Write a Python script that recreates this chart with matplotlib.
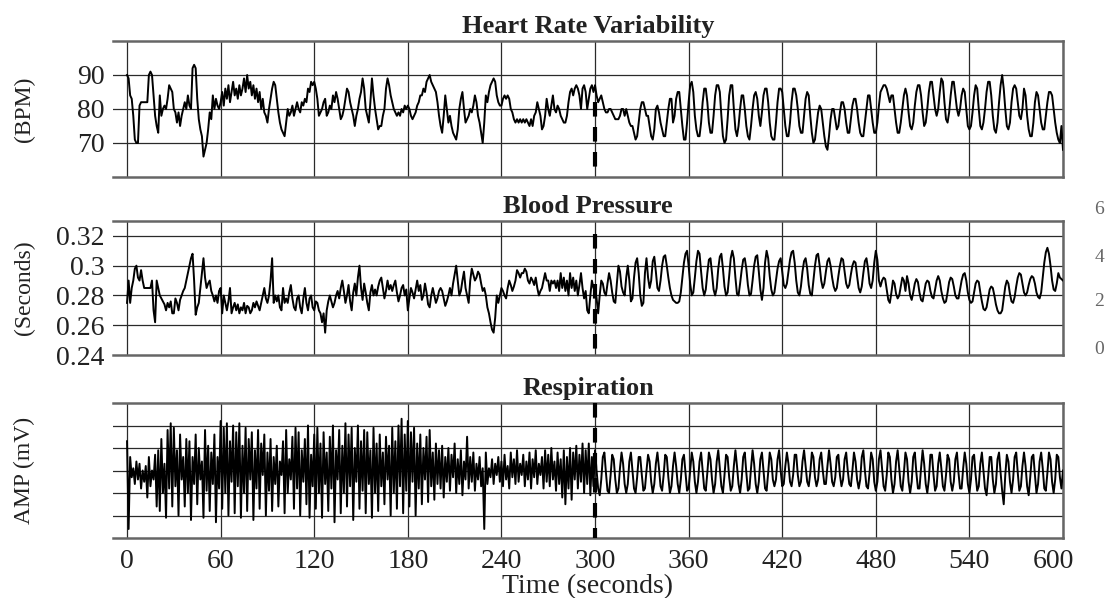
import matplotlib
matplotlib.use("Agg")
import matplotlib.pyplot as plt
from matplotlib.transforms import ScaledTranslation
import numpy as np

plt.rcParams['font.family'] = ['Liberation Serif', 'DejaVu Serif']

# heart rate, one value per second (BPM)
hr = [
    90, 89, 84, 83, 78, 71, 70, 70, 81, 82,
    82, 82, 82, 82, 90, 91, 90, 84, 78, 75,
    73, 84, 78, 80, 81, 80, 83, 87, 86, 85,
    80, 79, 76, 79, 75, 78, 80, 82, 80, 84,
    81, 80, 92, 93, 92, 83, 77, 74, 72, 66,
    68, 70, 74, 79, 77, 84, 80, 83, 81, 80,
    82, 85, 81, 86, 83, 87, 82, 85, 88, 84,
    86, 83, 87, 84, 86, 89, 85, 90, 86, 88,
    84, 87, 83, 86, 82, 85, 80, 83, 79, 78,
    76, 80, 83, 86, 88, 87, 83, 79, 76, 74,
    73, 72, 76, 80, 78, 79, 81, 78, 80, 82,
    80, 79, 82, 81, 83, 82, 86, 85, 88, 87,
    88, 86, 83, 78, 79, 80, 82, 83, 78, 79,
    81, 80, 84, 82, 85, 83, 80, 77, 78, 80,
    83, 86, 85, 82, 80, 78, 75, 78, 80, 83,
    85, 89, 86, 80, 78, 76, 82, 89, 84, 80,
    77, 74, 75, 75, 78, 80, 86, 89, 87, 84,
    82, 80, 79, 78, 79, 78, 80, 79, 81, 80,
    81, 80, 78, 77, 78, 79, 81, 82, 84, 84,
    86, 85, 88, 89, 90, 88, 87, 86, 85, 82,
    78, 75, 73, 78, 84, 80, 76, 78, 75, 73,
    72, 71, 74, 80, 83, 85, 80, 76, 77, 78,
    80, 79, 81, 84, 82, 78, 76, 73, 70, 76,
    84, 82, 85, 87, 88, 89, 88, 84, 82, 81,
    81, 83, 84, 83, 84, 83, 80, 79, 77, 76,
    77, 76, 77, 76, 77, 76, 77, 76, 75, 77,
    75, 78, 79, 82, 80, 78, 74, 75, 78, 83,
    80, 78, 81, 84, 80, 79, 81, 80, 78, 77,
    76, 76, 78, 82, 85, 86, 84, 86, 87, 86,
    84, 80, 86, 87, 85, 80, 83, 86, 87, 85,
    87, 84, 82, 83, 84, 82, 80, 79, 79, 80,
    80, 79, 78, 77, 77, 77, 78, 80, 80, 78,
    80, 78, 76, 75, 75, 73, 71, 72, 76, 80,
    82, 82, 80, 78, 78, 75, 72, 71, 74, 80,
    81, 79, 76, 74, 72, 72, 76, 80, 83, 83,
    76, 78, 83, 85, 85, 80, 75, 71, 71, 76,
    82, 87, 88, 85, 78, 74, 72, 72, 76, 82,
    86, 86, 82, 76, 73, 73, 78, 84, 87, 87,
    85, 78, 72, 70, 71, 77, 84, 87, 87, 80,
    74, 72, 75, 80, 84, 84, 80, 75, 72, 71,
    75, 80, 84, 85, 83, 78, 75, 79, 84, 86,
    86, 82, 76, 72, 71, 71, 76, 82, 86, 86,
    85, 80, 75, 72, 72, 76, 82, 86, 86, 84,
    80, 75, 73, 73, 78, 83, 85, 84, 78, 73,
    70, 71, 75, 79, 81, 80, 76, 72, 69, 68,
    72, 77, 80, 80, 77, 74, 75, 79, 82, 82,
    80, 76, 73, 73, 77, 81, 83, 83, 80, 76,
    73, 72, 72, 76, 80, 84, 84, 80, 76, 73,
    73, 76, 81, 85, 86, 87, 87, 86, 84, 82,
    84, 84, 80, 76, 73, 73, 76, 80, 84, 86,
    84, 79, 75, 74, 76, 81, 85, 87, 87, 84,
    79, 75, 76, 80, 85, 88, 88, 84, 80, 78,
    80, 85, 89, 88, 82, 77, 76, 79, 84, 88,
    88, 84, 80, 78, 80, 84, 86, 85, 80, 75,
    74, 75, 79, 84, 87, 86, 80, 75, 74, 76,
    80, 85, 88, 88, 84, 78, 74, 73, 76, 82,
    87, 90, 86, 80, 75, 74, 76, 82, 86, 87,
    86, 82, 78, 77, 80, 86, 84, 78, 74, 72,
    72, 76, 82, 85, 84, 80, 76, 74, 74, 78,
    82, 85, 85, 84, 80, 76, 73, 71, 70, 75,
    68,
]

# blood pressure trace, one value per second (milliseconds)
bp_ms = [
    275, 290, 275, 285, 290, 298, 300, 292, 290, 297,
    290, 285, 285, 285, 285, 285, 290, 270, 262, 290,
    285, 280, 278, 276, 274, 270, 275, 272, 276, 268,
    268, 278, 275, 270, 277, 280, 283, 285, 290, 295,
    300, 305, 308, 290, 267, 272, 275, 285, 295, 305,
    292, 285, 288, 290, 283, 280, 276, 280, 275, 283,
    285, 268, 280, 275, 270, 276, 285, 268, 272, 275,
    270, 274, 268, 272, 270, 275, 268, 273, 272, 268,
    270, 275, 272, 276, 273, 270, 275, 280, 285, 278,
    275, 280, 290, 305, 275, 280, 276, 280, 272, 270,
    285, 275, 278, 275, 282, 287, 278, 272, 270, 278,
    280, 272, 268, 278, 285, 275, 270, 278, 280, 272,
    270, 276, 275, 270, 268, 262, 268, 255, 270, 276,
    280, 276, 272, 275, 280, 283, 278, 285, 290, 283,
    275, 280, 287, 276, 270, 282, 288, 280, 292, 300,
    285, 277, 288, 282, 275, 270, 282, 287, 280, 284,
    280, 286, 290, 292, 285, 278, 283, 290, 284, 287,
    283, 287, 290, 282, 276, 280, 285, 287, 280, 284,
    270, 278, 285, 282, 278, 284, 290, 283, 287, 277,
    280, 288, 282, 274, 272, 280, 285, 280, 275, 278,
    283, 285, 283, 278, 273, 276, 280, 285, 280, 288,
    294, 300, 290, 280, 283, 290, 296, 285, 280, 275,
    290, 298, 294, 290, 292, 296, 294, 288, 283, 285,
    280, 272, 268, 262, 257, 255, 265, 280, 275, 280,
    285, 283, 280, 278, 285, 290, 287, 283, 286, 290,
    297, 295, 292, 295, 295, 298, 296, 290, 288, 292,
    290, 287, 292, 285, 280, 283, 285, 290, 295, 290,
    290, 283, 290, 288, 290, 285, 290, 283, 295, 285,
    292, 283, 290, 280, 295, 285, 292, 283, 290, 280,
    287, 295, 285, 278, 283, 270, 268, 280, 290, 285,
    285, 278, 268, 280, 290, 288, 282, 280, 288, 295,
    290, 282, 276, 275, 288, 300, 296, 286, 282, 280,
    292, 300, 290, 276, 278, 292, 302, 305, 295, 280,
    273, 275, 295, 305, 292, 285, 290, 303, 306, 296,
    285, 283, 290, 300, 306, 307, 300, 292, 285, 280,
    277, 276, 275, 275, 276, 282, 292, 302, 308, 310,
    300, 288, 280, 282, 292, 303, 310, 308, 296, 285,
    280, 284, 295, 304, 305, 295, 284, 280, 285, 298,
    306, 308, 298, 286, 280, 282, 293, 305, 310, 305,
    292, 281, 280, 288, 297, 304, 305, 298, 287, 280,
    281, 290, 300, 306, 307, 296, 284, 277, 285, 302,
    310, 305, 293, 284, 280, 282, 290, 298, 303, 305,
    296, 287, 285, 288, 296, 304, 309, 310, 302, 290,
    282, 280, 286, 296, 303, 305, 298, 287, 281, 280,
    290, 300, 307, 308, 300, 290, 285, 288, 296, 303,
    305, 300, 292, 286, 283, 285, 293, 300, 305, 304,
    296, 288, 285, 287, 294, 300, 303, 302, 293, 285,
    282, 286, 295, 303, 305, 298, 288, 285, 290, 302,
    310, 304, 290, 286, 290, 292, 291, 284, 277, 275,
    282, 290, 288, 281, 278, 280, 286, 292, 290, 283,
    293, 288, 280, 277, 282, 288, 291, 289, 282, 277,
    276, 282, 288, 290, 289, 283, 279, 278, 284, 290,
    293, 290, 283, 278, 275, 276, 282, 289, 292, 291,
    286, 280, 278, 278, 284, 290, 294, 295, 290, 282,
    277, 275, 276, 282, 288, 290, 289, 282, 276, 271,
    270, 272, 278, 284, 286, 285, 280, 274, 270, 268,
    268, 270, 278, 286, 290, 288, 281, 276, 275, 279,
    286, 292, 295, 294, 288, 282, 280, 282, 287, 291,
    293, 292, 288, 282, 279, 278, 282, 292, 302, 309,
    312, 308, 300, 290, 284, 283, 288, 295, 292, 291,
    290,
]

# respiration amplitude, one value per second (grid units)
resp = [
    4.3, 0.4, 3.6, 2.7, 3.1, 2.4, 3.4, 2.6, 3.3, 2.2,
    3.0, 2.5, 3.2, 1.8, 3.6, 2.3, 3.0, 2.6, 3.7, 1.4,
    3.9, 1.2, 4.4, 2.0, 3.3, 0.9, 4.8, 2.2, 5.1, 1.4,
    4.9, 2.3, 3.9, 1.0, 4.6, 2.6, 3.6, 1.4, 4.4, 2.0,
    4.3, 0.8, 3.6, 2.4, 4.6, 1.5, 4.0, 2.6, 3.4, 0.9,
    4.8, 2.1, 4.1, 1.2, 3.8, 2.4, 4.6, 0.7, 3.6, 2.2,
    5.2, 1.3, 4.9, 2.0, 5.1, 1.0, 4.3, 2.5, 5.0, 1.1,
    4.7, 2.3, 5.1, 0.9, 4.1, 2.0, 4.9, 1.2, 4.4, 2.6,
    4.7, 0.8, 3.9, 2.2, 4.8, 1.3, 4.2, 2.8, 4.6, 1.0,
    3.8, 2.1, 4.4, 1.2, 3.6, 2.4, 4.1, 1.4, 3.4, 2.8,
    4.3, 1.1, 4.8, 2.0, 3.5, 2.6, 4.5, 1.3, 4.9, 2.2,
    4.7, 1.0, 3.9, 2.5, 4.4, 1.5, 5.0, 0.9, 3.7, 2.3,
    4.6, 1.3, 4.9, 2.0, 4.2, 0.9, 4.7, 2.4, 3.8, 1.2,
    4.5, 2.2, 5.0, 0.7, 3.9, 2.6, 4.8, 1.1, 4.1, 2.0,
    5.1, 1.4, 4.6, 2.3, 4.9, 0.8, 4.0, 2.5, 5.0, 1.3,
    4.3, 2.1, 4.8, 1.1, 4.7, 2.4, 3.9, 0.9, 4.9, 2.0,
    4.2, 1.2, 4.6, 2.3, 3.8, 1.5, 4.5, 2.6, 4.1, 1.0,
    4.9, 2.0, 4.3, 1.3, 5.0, 2.3, 5.3, 1.1, 4.6, 2.1,
    5.2, 1.4, 4.7, 2.5, 4.9, 1.0, 4.2, 2.2, 4.6, 1.5,
    4.0, 2.6, 4.5, 1.6, 4.8, 2.3, 3.8, 1.7, 4.2, 2.4,
    3.9, 2.2, 4.1, 1.8, 3.6, 2.5, 4.0, 2.1, 3.7, 2.7,
    4.2, 2.0, 3.5, 2.4, 3.9, 1.9, 3.4, 2.6, 4.5, 2.2,
    3.6, 2.5, 3.8, 2.1, 3.3, 2.6, 3.6, 2.3, 3.1, 0.4,
    3.8, 2.4, 3.1, 2.7, 3.5, 2.4, 3.3, 2.8, 3.6, 2.5,
    3.4, 2.3, 3.7, 2.6, 3.2, 2.2, 3.8, 2.7, 3.5, 2.4,
    3.9, 2.5, 3.3, 2.8, 3.7, 2.3, 3.4, 2.6, 3.8, 2.2,
    3.5, 2.7, 3.9, 2.4, 3.3, 2.8, 3.6, 2.2, 3.9, 2.5,
    3.7, 2.3, 4.0, 2.6, 3.4, 2.1, 3.8, 2.4, 3.5, 1.8,
    3.9, 1.5, 3.6, 2.2, 4.0, 1.7, 3.8, 2.6, 4.1, 2.2,
    3.7, 2.5, 4.2, 2.0, 3.9, 2.4, 4.2, 1.9, 3.6, 2.3,
    3.9, 3.0, 2.2, 1.9, 2.6, 3.6, 3.8, 2.9, 2.1, 2.0,
    2.8, 3.7, 3.5, 2.6, 2.0, 2.2, 3.1, 3.8, 3.3, 2.4,
    2.0, 2.4, 3.4, 3.8, 3.0, 2.2, 2.0, 2.7, 3.6, 3.6,
    2.8, 2.1, 2.2, 3.0, 3.7, 3.4, 2.5, 2.0, 2.4, 3.3,
    3.8, 3.1, 2.3, 2.1, 2.8, 3.7, 3.6, 2.7, 2.0, 2.3,
    3.2, 3.8, 3.2, 2.4, 2.0, 2.6, 3.5, 3.7, 2.9, 2.1,
    2.2, 3.0, 3.8, 3.4, 2.5, 2.0, 2.5, 3.4, 3.8, 3.0,
    2.2, 2.1, 2.9, 3.8, 3.5, 2.6, 2.0, 2.4, 3.4, 3.9,
    3.1, 2.3, 2.0, 2.8, 3.7, 3.6, 2.7, 2.1, 2.3, 3.2,
    3.9, 3.2, 2.4, 2.0, 2.6, 3.6, 3.8, 2.9, 2.1, 2.2,
    3.1, 3.9, 3.3, 2.4, 2.0, 2.5, 3.5, 3.8, 3.0, 2.2,
    2.1, 2.9, 3.8, 3.5, 2.6, 2.3, 2.6, 3.5, 3.9, 3.0,
    2.3, 2.4, 3.2, 3.8, 3.3, 2.5, 2.3, 2.8, 3.7, 3.7,
    2.8, 2.3, 2.5, 3.4, 3.9, 3.2, 2.5, 2.3, 2.9, 3.8,
    3.6, 2.7, 2.3, 2.6, 3.5, 3.8, 3.0, 2.4, 2.4, 3.2,
    3.9, 3.3, 2.5, 2.3, 2.7, 3.6, 3.7, 2.8, 2.3, 2.6,
    3.5, 3.8, 3.0, 2.4, 2.3, 3.0, 3.8, 3.4, 2.6, 2.2,
    2.6, 3.6, 3.9, 3.0, 2.3, 2.2, 2.9, 3.8, 3.5, 2.5,
    2.1, 2.5, 3.5, 3.9, 3.1, 2.3, 2.1, 2.8, 3.8, 3.6,
    2.6, 2.0, 2.4, 3.4, 3.9, 3.1, 2.3, 2.1, 2.9, 3.8,
    3.5, 2.5, 2.0, 2.5, 3.6, 3.8, 2.9, 2.2, 2.2, 3.1,
    3.9, 3.3, 2.4, 2.0, 2.6, 3.7, 3.7, 2.8, 2.1, 2.3,
    3.3, 3.8, 3.1, 2.3, 2.1, 2.8, 3.7, 3.5, 2.5, 2.1,
    2.5, 3.5, 3.8, 2.9, 2.2, 2.2, 3.1, 3.8, 3.3, 2.4,
    2.0, 2.6, 3.6, 3.7, 2.8, 2.1, 2.3, 3.3, 3.8, 3.0,
    2.2, 1.9, 2.7, 3.6, 3.6, 2.6, 2.0, 2.4, 3.5, 3.8,
    2.9, 2.1, 1.5, 2.8, 3.7, 3.4, 2.5, 2.0, 2.6, 3.6,
    3.8, 2.9, 2.1, 2.3, 3.2, 3.8, 3.2, 2.3, 1.9, 2.7,
    3.6, 3.7, 2.8, 2.0, 2.4, 3.4, 3.8, 3.1, 2.2, 2.1,
    2.9, 3.8, 3.5, 2.5, 2.0, 2.6, 3.7, 3.6, 2.7, 2.2,
    3.0,
]

time_ticks = [0, 60, 120, 180, 240, 300, 360, 420, 480, 540, 600]
event_time = 300
# tick digits of a neighbouring chart showing at the right edge
edge_marks = ['6', '4', '2', '0']
edge_y_px = [210, 258, 302, 350]

t_hr = np.arange(len(hr))
t_bp = np.arange(len(bp_ms))
t_resp = np.arange(len(resp))
bp = np.array(bp_ms) / 1000.0

fig = plt.figure(figsize=(11.05, 5.98), dpi=100)
left, width = 113 / 1105, 950 / 1105
ax1 = fig.add_axes([left, 1 - 177 / 598, width, 136 / 598])
ax2 = fig.add_axes([left, 1 - 355 / 598, width, 134 / 598])
ax3 = fig.add_axes([left, 1 - 538 / 598, width, 135 / 598])

txt = '#222222'
grid_c = '#2a2a2a'
dash_kw = dict(color='black', lw=3, dashes=(3.5, 2.5), dash_capstyle='butt', zorder=4)


def style(ax, ygrid):
    ax.set_xlim(-9, 600)
    for x in time_ticks:
        ax.axvline(x, color=grid_c, lw=0.9, zorder=1)
    for y in ygrid:
        ax.axhline(y, color=grid_c, lw=0.9, zorder=1)
    ax.spines['left'].set_visible(False)
    for s in ['top', 'bottom', 'right']:
        ax.spines[s].set_color('#666666')
        ax.spines[s].set_linewidth(1.8)
    ax.tick_params(length=0, labelsize=20, colors=txt, pad=6)
    ax.set_xticks(time_ticks)
    ax.set_xticklabels([])


# heart rate
ax1.plot(t_hr, hr, color='black', lw=1.4, zorder=3)
ax1.set_ylim(60, 100)
style(ax1, [70, 80, 90])
ax1.set_yticks([70, 80, 90])
ax1.set_title('Heart Rate Variability', fontsize=19, fontweight='bold', color=txt, pad=6)
ax1.set_ylabel('(BPM)', fontsize=17, color=txt)
ax1.plot([event_time, event_time], [82, 60], **dash_kw)

# blood pressure
ax2.plot(t_bp, bp, color='black', lw=1.4, zorder=3)
ax2.set_ylim(0.24, 0.33)
style(ax2, [0.26, 0.28, 0.30, 0.32])
ax2.set_yticks([0.24, 0.26, 0.28, 0.30, 0.32])
ax2.set_yticklabels(['0.24', '0.26', '0.28', '0.3', '0.32'])
ax2.set_title('Blood Pressure', fontsize=19, fontweight='bold', color=txt, pad=6)
ax2.set_ylabel('(Seconds)', fontsize=17, color=txt)
ax2.plot([event_time, event_time], [0.321, 0.24], **dash_kw)

# respiration
ax3.plot(t_resp, resp, color='black', lw=1.4, zorder=3)
ax3.set_ylim(0, 6)
style(ax3, [1, 2, 3, 4, 5])
ax3.set_yticks([])
ax3.set_xticklabels([str(v) for v in time_ticks])
ax3.tick_params(axis='x', pad=8)
ax3.set_title('Respiration', fontsize=19, fontweight='bold', color=txt, pad=6)
ax3.set_ylabel('AMP (mV)', fontsize=17, color=txt)
ax3.set_xlabel('Time (seconds)', fontsize=20, color=txt, labelpad=0)
ax3.plot([event_time, event_time], [6, 0], **dash_kw)

# last time label sits a little left of the frame edge
last = ax3.xaxis.get_major_ticks()[-1].label1
last.set_transform(last.get_transform() + ScaledTranslation(-10 / 100, 0, fig.dpi_scale_trans))

for ax in (ax1, ax2, ax3):
    ax.yaxis.set_label_coords(-0.082, 0.5)

for mark, ypx in zip(edge_marks, edge_y_px):
    fig.text(1104 / 1105, 1 - ypx / 598, mark, fontsize=14, color='#666666',
             ha='right', va='center')

fig.savefig('out.png', dpi=100)
